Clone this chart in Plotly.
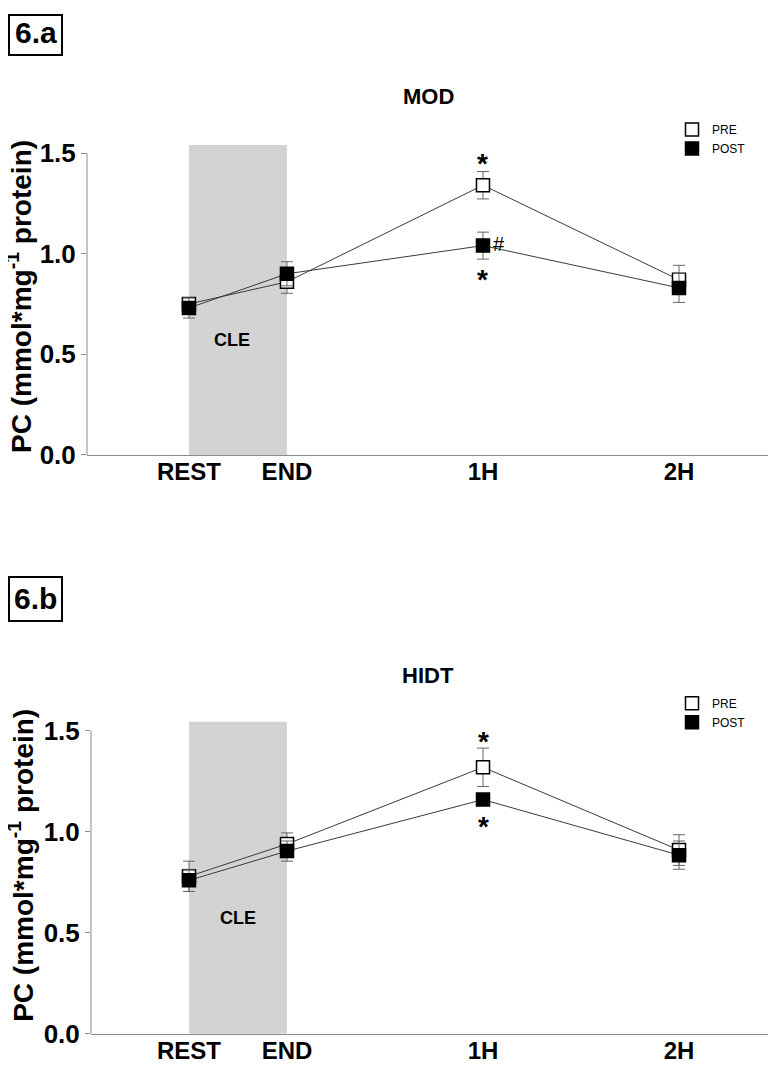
import plotly.graph_objects as go

# ---------------- data ----------------
categories = ["REST", "END", "1H", "2H"]
time_h = [0, 0.5, 1.5, 2.5]          # time of each sample (h)
y_ticks = [0.0, 0.5, 1.0, 1.5]
y_ticktext = ["0.0", "0.5", "1.0", "1.5"]
series_names = ["PRE", "POST"]

mod_pre = [0.75, 0.86, 1.34, 0.87]
mod_pre_err = [0.03, 0.057, 0.068, 0.072]
mod_post = [0.73, 0.90, 1.04, 0.83]
mod_post_err = [0.05, 0.06, 0.067, 0.072]

hidt_pre = [0.78, 0.94, 1.32, 0.91]
hidt_pre_err = [0.075, 0.055, 0.095, 0.076]
hidt_post = [0.76, 0.905, 1.16, 0.885]
hidt_post_err = [0.055, 0.05, 0.02, 0.07]

# ---------------- layout helpers ----------------
OFFX = 8                 # horizontal page offset
OFFY, SY = 15.0, 0.98    # vertical page offset / scale seen in the photo
W, H = 772, 1090
FONT = "Liberation Sans, Arial, sans-serif"
AXIS_GREY = "#8c8c8c"


def px(p):
    return (p - OFFX) / W


def fy(p):
    return max((p - OFFY) / SY, 0.0)


def py(p):
    return 1 - fy(p) / H


panels = [
    dict(title="MOD", label="6.a", pre=mod_pre, pre_err=mod_pre_err,
         post=mod_post, post_err=mod_post_err, xa="x", ya="y", legend="legend",
         left=87, right=768, top=145, bottom=455, ymax=1.54, xmin=-0.52,
         title_y=97, box=(9, 15, 62, 55), box_text=33, ytitle=(19, 297),
         cle=(0.22, 0.571), leg=(672, 115), hash=True,
         star_top=8, star_bot=-20),
    dict(title="HIDT", label="6.b", pre=hidt_pre, pre_err=hidt_pre_err,
         post=hidt_post, post_err=hidt_post_err, xa="x2", ya="y2", legend="legend2",
         left=91, right=768, top=722, bottom=1034, ymax=1.545, xmin=-0.50,
         title_y=676, box=(9, 577, 62, 621), box_text=599, ytitle=(21, 866),
         cle=(0.25, 0.576), leg=(672, 689), hash=False,
         star_top=7, star_bot=-23),
]

fig = go.Figure()
shapes = []
annotations = []
layout_axes = {}

for i, p in enumerate(panels):
    xa, ya = p["xa"], p["ya"]
    # data traces
    for name, vals, errs, fill in [("PRE", p["pre"], p["pre_err"], "white"),
                                   ("POST", p["post"], p["post_err"], "black")]:
        fig.add_trace(go.Scatter(
            x=time_h, y=vals, mode="lines+markers", name=name,
            xaxis=xa, yaxis=ya, showlegend=False,
            line=dict(color="#3a3a3a", width=1),
            marker=dict(symbol="square", size=13, color=fill,
                        line=dict(color="black", width=1.5)),
            error_y=dict(type="data", array=errs, visible=True,
                         color="#666666", thickness=1, width=6),
        ))
    # legend-only traces
    for name, fill in [("PRE", "white"), ("POST", "black")]:
        fig.add_trace(go.Scatter(
            x=[None], y=[None], mode="markers", name=name,
            xaxis=xa, yaxis=ya, legend=p["legend"], showlegend=True,
            marker=dict(symbol="square", size=13, color=fill,
                        line=dict(color="black", width=1.5)),
        ))

    suffix = "" if i == 0 else str(i + 1)
    layout_axes["xaxis" + suffix] = dict(
        domain=[px(p["left"]), px(p["right"])],
        range=[p["xmin"], 2.954], anchor=ya,
        tickvals=time_h, ticktext=categories,
        tickfont=dict(family=FONT, size=24, color="black", weight="bold"),
        showline=True, linecolor=AXIS_GREY, linewidth=1,
        ticks="", ticklabelstandoff=-5,
        showgrid=False, zeroline=False, fixedrange=True,
    )
    layout_axes["yaxis" + suffix] = dict(
        domain=[py(p["bottom"]), py(p["top"])],
        range=[0, p["ymax"]], anchor=xa,
        tickvals=y_ticks, ticktext=y_ticktext,
        tickfont=dict(family=FONT, size=26, color="black", weight="bold"),
        ticks="outside", ticklen=5, tickcolor=AXIS_GREY, tickwidth=1,
        showline=False, showgrid=False, zeroline=False, fixedrange=True,
    )

    # y-axis line up to 1.5 only
    shapes.append(dict(type="line", xref=xa + " domain", x0=0, x1=0,
                       yref=ya, y0=0, y1=y_ticks[-1],
                       line=dict(color=AXIS_GREY, width=1)))
    # CLE shaded exercise period
    shapes.append(dict(type="rect", xref=xa, x0=time_h[0], x1=time_h[1],
                       yref=ya + " domain", y0=0, y1=1,
                       fillcolor="#d3d3d3", line=dict(width=0), layer="below"))
    annotations.append(dict(text="<b>CLE</b>", xref=xa, yref=ya,
                            x=p["cle"][0], y=p["cle"][1], showarrow=False,
                            font=dict(family=FONT, size=18, color="black")))
    # panel title
    annotations.append(dict(text="<b>%s</b>" % p["title"], xref="paper", yref="paper",
                            x=px(428), y=py(p["title_y"]), showarrow=False,
                            xanchor="center", yanchor="middle",
                            font=dict(family=FONT, size=22, color="black")))
    # y title
    annotations.append(dict(text="<b>PC (mmol*mg<sup>-1</sup> protein)</b>",
                            xref="paper", yref="paper",
                            x=px(p["ytitle"][0]), y=py(p["ytitle"][1]),
                            textangle=-90, showarrow=False,
                            xanchor="center", yanchor="middle",
                            font=dict(family=FONT, size=28, color="black")))
    # panel label box
    x0, y0, x1, y1 = p["box"]
    shapes.append(dict(type="rect", xref="paper", yref="paper",
                       x0=px(x0), x1=px(x1), y0=py(y1), y1=py(y0),
                       line=dict(color="black", width=2), fillcolor="white"))
    annotations.append(dict(text="<b>%s</b>" % p["label"], xref="paper", yref="paper",
                            x=px((x0 + x1) / 2), y=py(p["box_text"]),
                            showarrow=False, xanchor="center", yanchor="middle",
                            font=dict(family=FONT, size=30, color="black")))
    # significance markers at 1H
    annotations.append(dict(text="<b>*</b>", xref=xa, yref=ya, x=time_h[2],
                            y=p["pre"][2] + p["pre_err"][2], yshift=p["star_top"],
                            showarrow=False, xanchor="center", yanchor="middle",
                            font=dict(family=FONT, size=28, color="black")))
    annotations.append(dict(text="<b>*</b>", xref=xa, yref=ya, x=time_h[2],
                            y=p["post"][2] - p["post_err"][2], yshift=p["star_bot"],
                            showarrow=False, xanchor="center", yanchor="middle",
                            font=dict(family=FONT, size=28, color="black")))
    if p["hash"]:
        annotations.append(dict(text="#", xref=xa, yref=ya, x=time_h[2],
                                y=p["post"][2], xshift=16, yshift=2,
                                showarrow=False, xanchor="center", yanchor="middle",
                                font=dict(family=FONT, size=20, color="black")))

legend_common = dict(xanchor="left", yanchor="top", bgcolor="rgba(0,0,0,0)",
                     font=dict(family=FONT, size=12, color="black"),
                     tracegroupgap=0, itemclick=False, itemdoubleclick=False)

fig.update_layout(
    width=W, height=H, autosize=False,
    margin=dict(l=0, r=0, t=0, b=0),
    paper_bgcolor="white", plot_bgcolor="white",
    font=dict(family=FONT, color="black"),
    shapes=shapes, annotations=annotations,
    legend=dict(x=px(panels[0]["leg"][0]), y=py(panels[0]["leg"][1]), **legend_common),
    legend2=dict(x=px(panels[1]["leg"][0]), y=py(panels[1]["leg"][1]), **legend_common),
    **layout_axes,
)

fig.write_html("out.html")
